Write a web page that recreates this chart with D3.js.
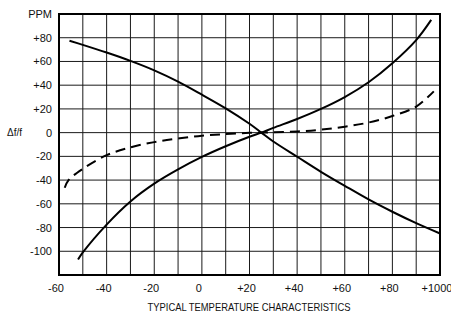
<!DOCTYPE html>
<html>
<head>
<meta charset="utf-8">
<script src="https://cdn.jsdelivr.net/npm/d3@7"></script>
<style>
  html, body { margin: 0; padding: 0; background: #fff; }
  text { font-family: "Liberation Sans", Arial, sans-serif; fill: #111; }
  .xlab { font-family: "Liberation Sans Narrow", "Arial Narrow", "Liberation Sans", sans-serif; }
</style>
</head>
<body>
<svg width="451" height="314"></svg>
<script>
// tick labels
const xTicks = [-60, -40, -20, 0, 20, 40, 60, 80, 100];
const xTickLabels = ["-60", "-40", "-20", "0", "+20", "+40", "+60", "+80", "+1000"];
const yTicks = [100, 80, 60, 40, 20, 0, -20, -40, -60, -80, -100];
const yTickLabels = ["PPM", "+80", "+60", "+40", "+20", "0", "-20", "-40", "-60", "-80", "-100"];

// curve: falling solid
const fallTemp = [-55.6, -50, -40, -30, -20, -10, 0, 10, 20, 25, 30, 40, 50, 60, 70, 80, 90, 100];
const fallPpm  = [77.5, 74, 67.5, 60.5, 52.5, 43, 32, 20.5, 7.5, 0, -7.5, -20.3, -33, -44.8, -56.3, -66.7, -76.3, -85];

// rising solid
const riseTemp = [-52, -50, -40, -30, -20, -10, 0, 10, 20, 25, 30, 40, 50, 60, 70, 80, 90, 96.3];
const risePpm  = [-107, -101, -77.5, -58, -43, -31, -20.5, -11.5, -3.5, 0, 4, 11.5, 20, 30, 42.5, 58.5, 78, 95];

// dashed
const dashTemp = [-57.6, -56, -50, -40, -30, -20, -10, 0, 10, 20, 30, 40, 50, 60, 70, 80, 90, 97.4];
const dashPpm  = [-46.5, -40, -30.5, -19, -12.4, -8, -5, -2.6, -1.2, -0.2, 0.3, 1, 2.5, 5, 8.5, 14, 22, 34.8];

const svg = d3.select("svg");

const x = d3.scaleLinear().domain([-60, 100]).range([59, 440]);
const y = d3.scaleLinear().domain([-120, 100]).range([275, 14]);

// grid
const grid = svg.append("g")
    .attr("stroke", "#1a1a1a")
    .attr("stroke-width", 1);

grid.selectAll(".vx")
    .data(d3.range(-50, 100, 10))
    .join("line")
    .attr("x1", d => x(d)).attr("x2", d => x(d))
    .attr("y1", y(100)).attr("y2", y(-120));

grid.selectAll(".hy")
    .data(d3.range(-100, 100, 20))
    .join("line")
    .attr("x1", x(-60)).attr("x2", x(100))
    .attr("y1", d => y(d)).attr("y2", d => y(d));

// frame
svg.append("rect")
    .attr("x", x(-60))
    .attr("y", y(100))
    .attr("width", x(100) - x(-60))
    .attr("height", y(-120) - y(100))
    .attr("fill", "none")
    .attr("stroke", "#000")
    .attr("stroke-width", 2);

// curves
const line = d3.line()
    .x(d => x(d[0]))
    .y(d => y(d[1]))
    .curve(d3.curveCatmullRom.alpha(0.5));

const series = [
    { t: fallTemp, v: fallPpm, dash: null },
    { t: riseTemp, v: risePpm, dash: null },
    { t: dashTemp, v: dashPpm, dash: "10,6" },
];

svg.append("g")
    .selectAll("path")
    .data(series)
    .join("path")
    .attr("d", s => line(d3.zip(s.t, s.v)))
    .attr("fill", "none")
    .attr("stroke", "#000")
    .attr("stroke-width", 2)
    .attr("stroke-dasharray", s => s.dash);

// y labels
svg.append("g")
    .selectAll("text")
    .data(yTicks)
    .join("text")
    .attr("x", 52)
    .attr("y", d => y(d))
    .attr("dy", "0.36em")
    .attr("text-anchor", "end")
    .attr("font-size", 11)
    .text((d, i) => yTickLabels[i]);

svg.append("text")
    .attr("x", 7)
    .attr("y", y(0))
    .attr("dy", "0.36em")
    .attr("font-size", 10)
    .text("\u0394f/f");

// x labels
svg.append("g")
    .selectAll("text")
    .data(xTicks)
    .join("text")
    .attr("class", "xlab")
    .attr("x", d => x(d) - 3)
    .attr("y", 292)
    .attr("text-anchor", "middle")
    .attr("font-size", 11)
    .text((d, i) => xTickLabels[i]);

svg.append("text")
    .attr("x", 249)
    .attr("y", 311)
    .attr("text-anchor", "middle")
    .attr("font-size", 11)
    .attr("textLength", 203)
    .attr("lengthAdjust", "spacingAndGlyphs")
    .text("TYPICAL TEMPERATURE CHARACTERISTICS");
</script>
</body>
</html>
